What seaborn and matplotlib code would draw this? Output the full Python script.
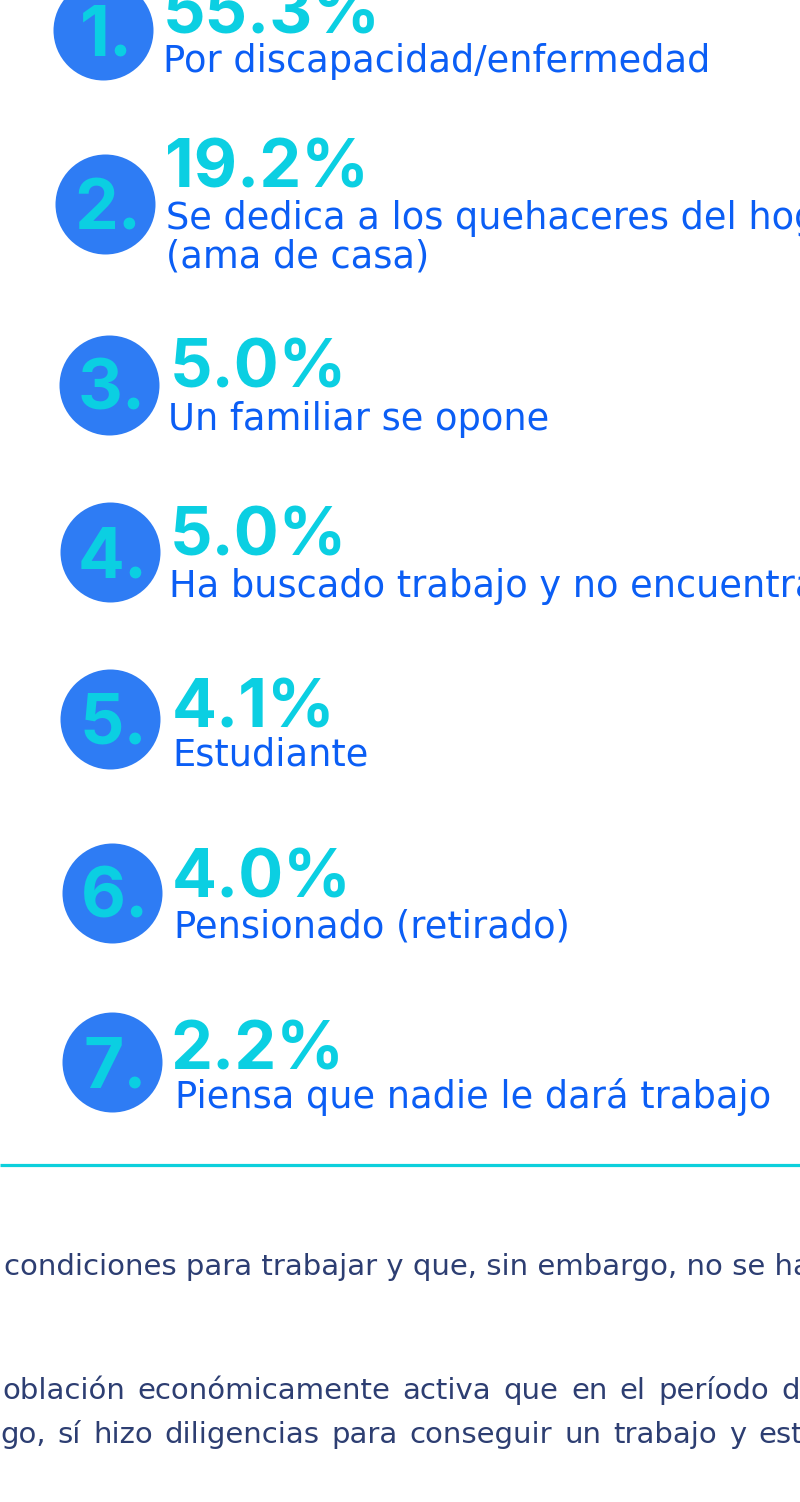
import matplotlib
matplotlib.use("Agg")
import matplotlib.pyplot as plt
import seaborn as sns
import pandas as pd

# ---------------- data ----------------
ranks = ["1.", "2.", "3.", "4.", "5.", "6.", "7."]
percents = [55.3, 19.2, 5.0, 5.0, 4.1, 4.0, 2.2]
labels = [
    "Por discapacidad/enfermedad",
    "Se dedica a los quehaceres del hogar\n(ama de casa)",
    "Un familiar se opone",
    "Ha buscado trabajo y no encuentra",
    "Estudiante",
    "Pensionado (retirado)",
    "Piensa que nadie le dará trabajo",
]
footer_lines = [
    "condiciones para trabajar y que, sin embargo, no se han",
    "oblación económicamente activa que en el período d",
    "go, sí hizo diligencias para conseguir un trabajo y est",
]

# ---------------- layout (pixels) ----------------
circle_cx = [103, 105, 109, 110, 110, 112, 112]
circle_cy = [30, 204, 385, 552, 719, 893, 1062]
pct_x = [163, 165, 170, 170, 172, 172, 170]
pct_dy = [3, -16, 3, 4, 8, 4, 8]
lab_x = [163, 166, 168, 169, 172, 174, 175]
lab_dy = [42, 25, 45, 45, 46, 44, 46]

CIRCLE = "#2E7CF4"
CYAN = "#0BCFE2"
BLUE = "#0B5EF5"
NAVY = "#2D3E72"
BIG_FONT = ["Inter", "DejaVu Sans"]

sns.set_theme(style="white")
plt.rcParams["font.family"] = ["DejaVu Sans"]

W, H = 800, 1502
fig = plt.figure(figsize=(W / 100, H / 100), dpi=100)
ax = fig.add_axes([0, 0, 1, 1])
ax.set_xlim(0, W)
ax.set_ylim(H, 0)
ax.axis("off")

df = pd.DataFrame({"cx": circle_cx, "cy": circle_cy, "rank": ranks})
sns.scatterplot(data=df, x="cx", y="cy", s=72 ** 2, color=CIRCLE,
                linewidth=0, ax=ax, legend=False, zorder=2)

for i in range(len(ranks)):
    cx, cy = circle_cx[i], circle_cy[i]
    ax.text(cx + 3, cy + 25, ranks[i], ha="center", va="baseline",
            fontsize=50, fontweight="bold", family=BIG_FONT, color=CYAN, zorder=3)
    ax.text(pct_x[i], cy + pct_dy[i], f"{percents[i]:.1f}%", ha="left",
            va="baseline", fontsize=48, fontweight="bold", family=BIG_FONT,
            color=CYAN, zorder=3)
    for j, line in enumerate(labels[i].split("\n")):
        ax.text(lab_x[i], cy + lab_dy[i] + 39 * j, line, ha="left",
                va="baseline", fontsize=26.5, color=BLUE, zorder=3)

# divider line
ax.plot([0, W], [1165, 1165], color="#0DD0DC", lw=2.3, solid_capstyle="butt")

# footer text
FOOT = 21
ax.text(4, 1275, footer_lines[0], ha="left", va="baseline",
        fontsize=FOOT, color=NAVY)

fig.canvas.draw()
renderer = fig.canvas.get_renderer()


def justify(line, x0, x1, y):
    words = line.split(" ")
    widths = []
    for w in words:
        t = ax.text(0, 0, w, fontsize=FOOT)
        bb = t.get_window_extent(renderer=renderer)
        widths.append(bb.width)
        t.remove()
    gap = (x1 - x0 - sum(widths)) / (len(words) - 1)
    x = x0
    for w, wd in zip(words, widths):
        ax.text(x, y, w, ha="left", va="baseline", fontsize=FOOT, color=NAVY)
        x += wd + gap


justify(footer_lines[1], 2, 800, 1399)
justify(footer_lines[2], 0, 803, 1443)

fig.savefig("out.png", dpi=100)
